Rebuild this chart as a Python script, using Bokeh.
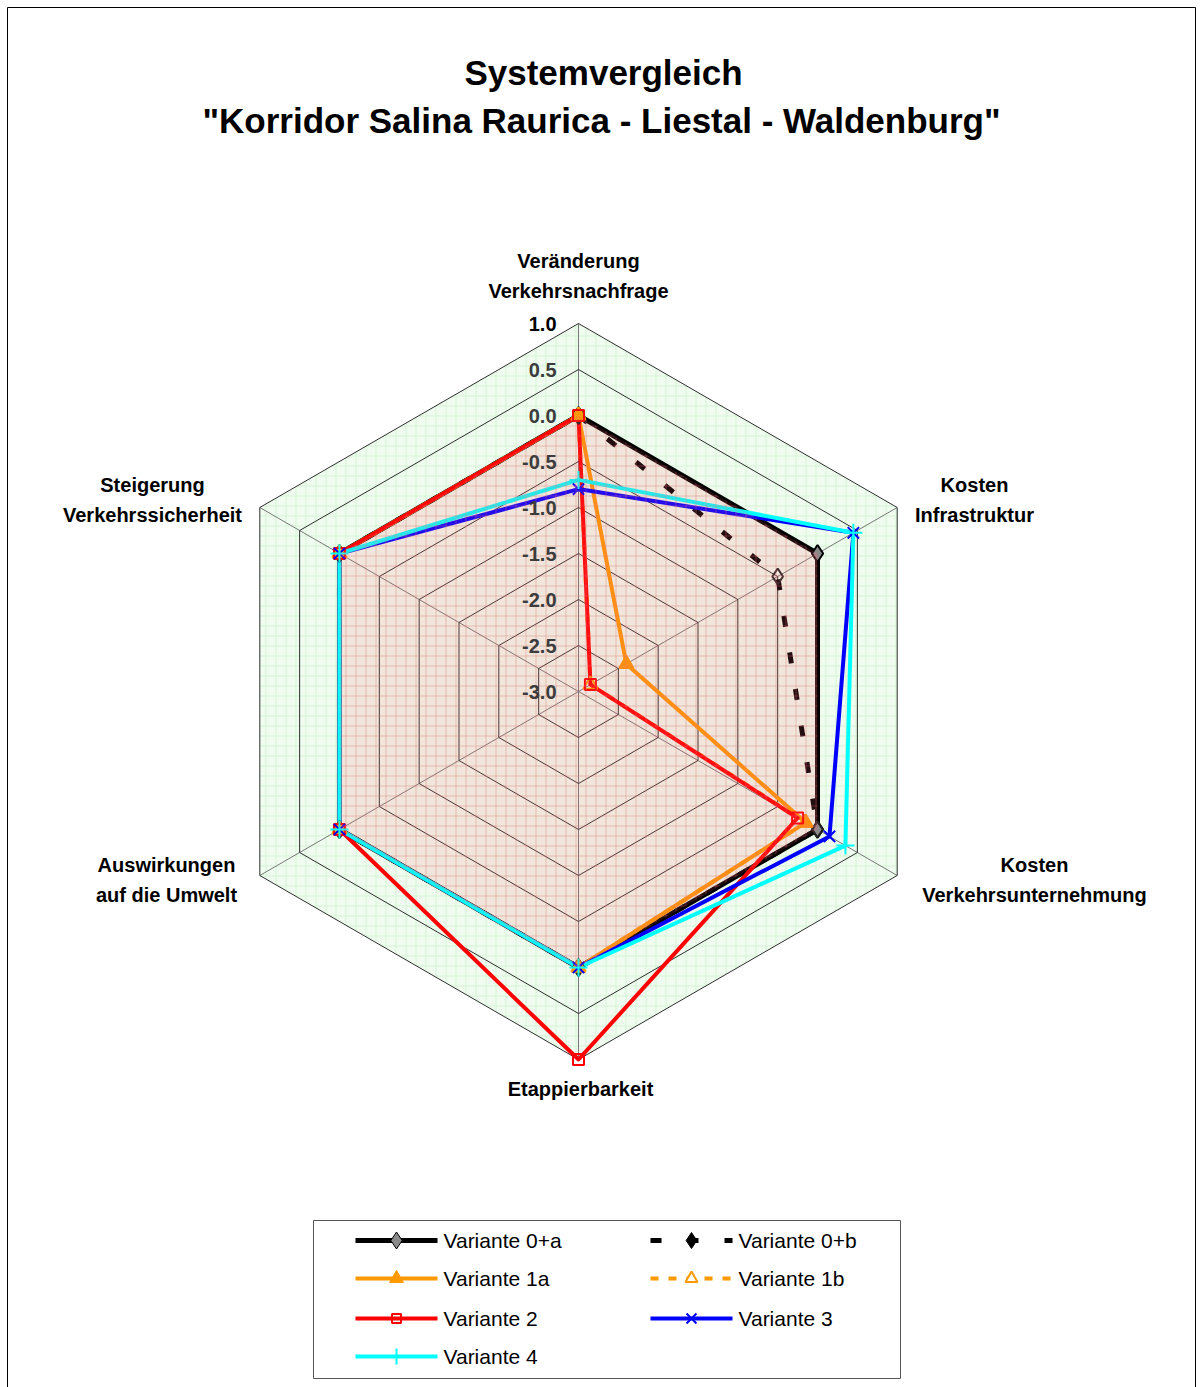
import numpy as np
from bokeh.plotting import figure
from bokeh.models import Range1d
from bokeh.core.properties import value
from bokeh.embed import file_html
from bokeh.resources import INLINE

# ---------------- data ----------------
categories = [
    ["Veränderung", "Verkehrsnachfrage"],
    ["Kosten", "Infrastruktur"],
    ["Kosten", "Verkehrsunternehmung"],
    ["Etappierbarkeit"],
    ["Auswirkungen", "auf die Umwelt"],
    ["Steigerung", "Verkehrssicherheit"],
]
ticks = [-3.0, -2.5, -2.0, -1.5, -1.0, -0.5, 0.0, 0.5, 1.0]
tick_labels = ["-3.0", "-2.5", "-2.0", "-1.5", "-1.0", "-0.5", "0.0", "0.5", "1.0"]

series_names = ["Variante 0+a", "Variante 0+b", "Variante 1a", "Variante 1b",
                "Variante 2", "Variante 3", "Variante 4"]
v0a = [0.0, 0.0, 0.0, 0.0, 0.0, 0.0]
v0b = [0.0, -0.5, 0.0, 0.0, 0.0, 0.0]
v1a = [0.0, -2.4, -0.15, 0.0, 0.0, 0.0]
v1b = [0.0, -2.85, -0.15, 0.0, 0.0, 0.0]
v2 = [0.0, -2.85, -0.25, 1.0, 0.0, 0.0]
v3 = [-0.8, 0.45, 0.15, 0.0, 0.0, 0.0]
v4 = [-0.7, 0.45, 0.35, 0.0, 0.0, 0.0]
series_values = [v0a, v0b, v1a, v1b, v2, v3, v4]

# ---------------- styles ----------------
styles = [
    dict(color="#000000", width=5, dash="solid", marker="diamond", size=17, fill="#8a8a8a", mline="#000000"),
    dict(color="#000000", width=5, dash="11 26", marker="diamond", size=16, fill=None, mline="#222222"),
    dict(color="#FF9900", width=4, dash="solid", marker="triangle", size=14, fill="#FF9900", mline="#FF9900"),
    dict(color="#FF9900", width=4, dash="8 10", marker="triangle", size=14, fill=None, mline="#FF9900"),
    dict(color="#FF0000", width=4, dash="solid", marker="square", size=11, fill=None, mline="#FF0000"),
    dict(color="#0000FF", width=4, dash="solid", marker="x", size=16, fill=None, mline="#0000FF"),
    dict(color="#00FFFF", width=4, dash="solid", marker="cross", size=18, fill=None, mline="#00FFFF"),
]

W, H = 1202, 1387
CX, CY = 578, 691           # centre of the radar within the canvas
PX = 92.0                   # pixels per unit value
ANG = np.radians([90, 30, -30, -90, -150, 150])

def sx(x):
    return x - CX

def sy(y):
    return CY - y

def polar(vals):
    r = (np.asarray(vals, dtype=float) - ticks[0]) * PX
    return list(r * np.cos(ANG)), list(r * np.sin(ANG))

p = figure(width=W, height=H, x_range=Range1d(-CX, W - CX), y_range=Range1d(-(H - CY), CY),
           output_backend="svg", toolbar_location=None, min_border=0)
p.axis.visible = False
p.grid.visible = False
p.outline_line_color = None
p.background_fill_color = "white"
p.border_fill_color = "white"

FONT = value("Liberation Sans")

# chart frame
p.quad(left=[sx(7)], right=[sx(1195)], top=[sy(7)], bottom=[sy(1400)],
       fill_color=None, line_color="#000000", line_width=1)

# background hexagon (green, gridded)
ox, oy = polar([ticks[-1]] * 6)
p.patch(ox, oy, fill_color="#effcef", line_color=None,
        hatch_pattern="+", hatch_color="#d6f4d6", hatch_scale=10, hatch_weight=1)

# spokes
for a in ANG:
    r = (ticks[-1] - ticks[0]) * PX
    p.line([0, r * np.cos(a)], [0, r * np.sin(a)], line_color="#777777", line_width=1)

# rings
for t in ticks[1:]:
    rx, ry = polar([t] * 6)
    p.line(rx + [rx[0]], ry + [ry[0]], line_color="#2e2e2e", line_width=1)

# series
for vals, st in zip(series_values, styles):
    xs, ys = polar(vals)
    p.line(xs + [xs[0]], ys + [ys[0]], line_color=st["color"], line_width=st["width"],
           line_dash=st["dash"], line_join="round")
for vals, st in zip(series_values, styles):
    xs, ys = polar(vals)
    if st["fill"] is None:
        p.scatter(xs, ys, marker=st["marker"], size=st["size"], fill_alpha=0,
                  line_color=st["mline"], line_width=2)
    else:
        p.scatter(xs, ys, marker=st["marker"], size=st["size"], fill_color=st["fill"],
                  line_color=st["mline"], line_width=2)

# pink overlay (area of Variante 0+a)
px_, py_ = polar(v0a)
p.patch(px_, py_, fill_color="#ff5a6a", fill_alpha=0.14, line_color=None,
        hatch_pattern="+", hatch_color="#ff7080", hatch_alpha=0.3, hatch_scale=10, hatch_weight=1)

# ring labels
lab_y = [(t - ticks[0]) * PX for t in ticks]
lab_colors = ["#3c3c3c"] * (len(ticks) - 1) + ["#000000"]
p.text(x=[sx(556)] * len(ticks), y=lab_y, text=tick_labels, text_font=FONT,
       text_font_size="20px", text_font_style="bold", text_align="right",
       text_baseline="middle", text_color=lab_colors)

# category labels
cat_pos = [(578, [260, 290]), (974, [484, 514]), (1034, [864, 894]),
           (580, [1088]), (166, [864, 894]), (152, [484, 514])]
for lines, (cx, ys_) in zip(categories, cat_pos):
    p.text(x=[sx(cx)] * len(lines), y=[sy(y) for y in ys_], text=lines, text_font=FONT,
           text_font_size="20px", text_font_style="bold", text_align="center",
           text_baseline="middle", text_color="#000000")

# title
p.text(x=[sx(603), sx(601)], y=[sy(72), sy(120)],
       text=["Systemvergleich", '"Korridor Salina Raurica - Liestal - Waldenburg"'],
       text_font=FONT, text_font_size="35px", text_font_style="bold",
       text_align="center", text_baseline="middle", text_color="#000000")

# legend (drawn by hand)
p.quad(left=[sx(313)], right=[sx(900)], top=[sy(1220)], bottom=[sy(1378)],
       fill_color="white", line_color="#555555", line_width=1)
rows = [1240, 1278, 1318, 1356]
cols = [355, 650]
for i, (name, st) in enumerate(zip(series_names, styles)):
    col = cols[i % 2]
    row = rows[i // 2]
    p.line([sx(col), sx(col + 82)], [sy(row), sy(row)], line_color=st["color"],
           line_width=st["width"], line_dash=st["dash"])
    if i == 1:
        p.scatter([sx(col + 41)], [sy(row)], marker="diamond", size=16,
                  fill_color="#000000", line_color="#000000")
    elif st["fill"] is None:
        p.scatter([sx(col + 41)], [sy(row)], marker=st["marker"], size=st["size"] - 2,
                  fill_alpha=0 if i != 3 else 1, fill_color="white",
                  line_color=st["mline"], line_width=2)
    else:
        p.scatter([sx(col + 41)], [sy(row)], marker=st["marker"], size=st["size"],
                  fill_color=st["fill"], line_color=st["mline"], line_width=1)
    p.text(x=[sx(col + 88)], y=[sy(row)], text=[name], text_font=FONT,
           text_font_size="21px", text_align="left", text_baseline="middle",
           text_color="#000000")

open("out.html", "w").write(file_html(p, INLINE))
